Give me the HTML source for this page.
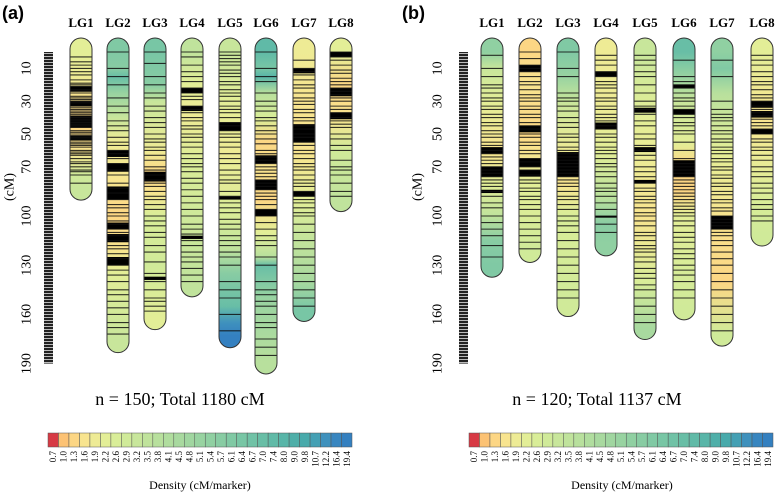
<!DOCTYPE html>
<html><head><meta charset="utf-8"><style>
body{margin:0;background:#fff;}
svg{display:block;font-family:"Liberation Serif",serif;}
</style></head><body>
<svg id="fig" width="780" height="494" viewBox="0 0 780 494">
<defs id="defs"></defs>
<text x="2" y="19" font-family="Liberation Sans,sans-serif" font-weight="bold" font-size="18">(a)</text>
<text x="402" y="19" font-family="Liberation Sans,sans-serif" font-weight="bold" font-size="18">(b)</text>
<text x="180" y="405" text-anchor="middle" font-size="18">n = 150; Total 1180 cM</text>
<text x="597" y="405" text-anchor="middle" font-size="18">n = 120; Total 1137 cM</text>
<text x="200" y="489" text-anchor="middle" font-size="12">Density (cM/marker)</text>
<text x="622" y="489" text-anchor="middle" font-size="12">Density (cM/marker)</text>
</svg>
<script>
const palette=['#d73a44','#fcc274','#fcd684','#f8e48f','#eeeb95','#e3ee97','#d9ed98','#d0ea99','#c8e69b','#c0e39c','#b8e09d','#b0dd9e','#a8d99f','#a0d6a0','#98d3a1','#90d0a2','#88cca3','#80c9a4','#78c6a5','#70c2a6','#68bea6','#60baa7','#58b5a8','#4fafa9','#48aaab','#44a0b4','#3f91bd','#3886c0','#3480c0'];
const legendLabels=['0.7','1.0','1.3','1.6','1.9','2.2','2.6','2.9','3.2','3.5','3.8','4.1','4.5','4.8','5.1','5.4','5.7','6.1','6.4','6.7','7.0','7.4','8.0','9.0','9.8','10.7','12.2','16.4','19.4'];
const lgNames=['LG1','LG2','LG3','LG4','LG5','LG6','LG7','LG8'];
const tickLabels=[10,30,50,70,100,130,160,190];
const lengthsA=[83,176,162,142,173,189,157,90];
const lengthsB=[130,121,154,117,168,156,172,111];
const markersA=[
[3,6,8,10,12,14,17,19,20,21,23,24,25,27,28,29,30,31,33,34,35,36,37,38,39,40,41,42,43,44,45,46,48,49,50,51,52,53,55,56,57,58,60,61,62,63,65,67,68,70,72,73,75,80],
[0,10,15,20,28,33,37,42,45,48,52,55,57,60,62,65,68,72,75,80,83,86,90,93,95,98,100,103,105,108,110,112,115,118,120,123,126,130,133,136,140,145,148,152,156,160,165,168,172],
[0,7,15,20,25,28,33,36,40,43,46,50,53,55,58,60,63,66,70,72,75,78,80,82,85,88,90,93,96,100,103,106,110,113,118,122,128,135,140,145,150,152,155,158],
[0,3,8,12,15,18,22,25,27,29,33,35,37,40,42,45,47,50,52,55,58,62,65,68,70,73,77,80,84,88,92,96,100,105,108,111,115,118,122,125,128,132,136,140],
[0,2,4,6,8,11,13,15,18,20,23,25,27,30,33,35,37,40,43,45,48,50,52,55,58,62,65,68,72,75,78,80,85,88,92,95,98,102,105,108,112,115,118,122,125,130,140,145,150,160,170],
[0,10,15,18,25,30,33,36,40,42,45,48,50,53,56,60,62,64,66,68,70,72,74,76,78,80,82,84,86,88,90,93,96,100,104,108,112,115,118,125,130,140,145,148,152,155,160,165,168,175,180,185],
[5,10,12,14,17,20,22,25,28,30,32,35,37,40,42,45,47,50,52,55,57,60,62,65,68,70,72,75,78,80,82,85,88,90,92,95,98,100,105,110,115,120,125,130,135,140,145,150,155],
[0,3,5,8,11,13,16,18,20,22,24,26,28,30,33,35,37,40,42,44,46,50,53,57,60,66,70,72,75,80,85,88]];
const markersB=[
[2,10,15,20,22,25,28,30,33,35,38,40,43,45,48,50,52,55,57,60,62,64,66,68,70,72,74,76,78,80,82,85,88,92,95,100,104,108,112,118,125],
[0,4,8,10,12,15,18,20,23,26,28,30,33,35,38,40,43,45,47,50,52,55,57,60,62,65,67,70,72,75,78,80,83,85,88,90,93,96,100,104,108,112,116,120],
[0,10,15,25,28,30,33,36,40,43,46,50,52,55,58,60,62,64,66,68,70,72,74,76,78,80,82,85,88,90,93,96,100,103,106,110,115,120,125,130,135,140,145,150],
[2,5,8,12,15,18,20,22,25,28,30,33,35,38,40,42,45,47,50,52,55,58,60,62,65,68,70,73,76,80,83,85,88,92,96,100,105,110],
[2,5,8,12,15,20,25,30,33,35,38,42,45,50,53,57,60,63,66,70,73,76,80,83,85,88,90,92,95,98,100,103,106,110,112,115,118,120,122,125,128,132,135,138,142,145,150,155,160,165],
[5,15,18,20,22,25,28,30,33,35,38,40,43,45,48,50,55,60,65,68,70,72,74,76,78,80,82,84,86,88,90,92,94,96,98,100,103,106,110,113,116,120,123,126,130,133,136,140,145,150],
[5,15,30,35,38,40,42,45,48,50,53,55,58,60,62,65,67,70,72,75,77,80,82,85,87,90,92,95,97,100,102,104,106,108,110,112,115,118,122,126,130,135,140,145,150,155,160,165,170],
[2,5,8,12,15,18,20,23,26,28,30,33,35,37,39,41,43,45,47,50,53,55,58,60,63,66,70,73,76,80,83,86,90,93,96,100,103]];
const blocksA=[[[21,24],[30,33],[39,46],[51,54]],[[60,64],[68,73],[82,90],[104,108],[111,116],[125,130]],[[73,79],[137,139]],[[22,25],[33,36],[112,114]],[[43,48],[88,90]],[[63,68],[78,84],[96,100]],[[10,13],[44,55],[85,88]],[[0,3],[22,27],[37,41]]];
const blocksB=[[[58,62],[70,76],[84,86]],[[8,12],[45,49],[65,70],[72,76]],[[61,76]],[[12,15],[43,47],[100,101]],[[34,37],[58,61],[78,80]],[[20,22],[35,38],[66,76]],[[100,108]],[[30,34],[36,40],[47,50]]];
const densityA=[
[[0,5],[15,4],[25,3],[45,2],[60,3],[75,7],[83,8]],
[[0,17],[10,16],[15,20],[25,14],[40,8],[55,4],[80,3],[100,2],[120,3],[135,5],[176,8]],
[[0,18],[20,16],[30,8],[60,4],[75,2],[85,3],[100,6],[130,7],[162,5]],
[[0,9],[20,5],[40,4],[70,6],[142,9]],
[[0,8],[30,5],[60,4],[100,6],[120,9],[135,16],[155,20],[165,26],[173,28]],
[[0,21],[10,18],[15,22],[25,10],[40,6],[55,2],[70,3],[90,2],[110,5],[125,10],[130,20],[150,14],[189,10]],
[[0,4],[30,3],[60,3],[90,5],[110,8],[140,12],[157,18]],
[[0,5],[20,2],[40,3],[60,7],[90,9]]];
const densityB=[
[[0,15],[10,8],[30,5],[60,3],[80,5],[100,9],[115,16],[130,17]],
[[0,2],[20,3],[50,2],[60,3],[80,5],[121,7]],
[[0,17],[15,14],[30,8],[60,4],[80,3],[100,6],[154,7]],
[[0,4],[30,4],[60,5],[90,10],[105,16],[117,15]],
[[0,8],[40,5],[70,4],[100,3],[140,6],[168,12]],
[[0,20],[15,14],[30,8],[55,5],[70,2],[85,2],[100,5],[156,7]],
[[0,15],[10,17],[25,10],[60,5],[100,3],[140,2],[172,7]],
[[0,5],[40,3],[60,4],[90,6],[111,7]]];

const NS='http://www.w3.org/2000/svg';
const svg=document.getElementById('fig');
const defs=document.getElementById('defs');
const Y0=52,K=1.64;
function yScale(cM){return Y0+cM*K;}
function mk(tag,attrs,parent){const e=document.createElementNS(NS,tag);for(const k in attrs)e.setAttribute(k,attrs[k]);(parent||svg).appendChild(e);return e;}

function panel(id,xs,rulerX,tickX,cmX,legendX,lengths,markers,blocks,density){
  const g=mk('g',{});
  
  
  const rul=mk('rect',{x:rulerX,y:Y0,width:9,height:yScale(190)-Y0,fill:'url(#rulerPat)'},g);
  
  
  tickLabels.forEach(t=>{
    const tx=mk('text',{x:tickX,y:yScale(t),'font-size':14,'text-anchor':'middle','dominant-baseline':'central',transform:`rotate(-90 ${tickX} ${yScale(t)})`},g);
    tx.textContent=t;
    
    
  });
  const cm=mk('text',{x:cmX,y:187,'font-size':14,'text-anchor':'middle','dominant-baseline':'central',transform:`rotate(-90 ${cmX} 187)`},g);
  cm.textContent='(cM)';
  
  
  lengths.forEach((L,i)=>{
    const cx=xs[i],top=38,bot=yScale(L)+12,w=22;
    const lab=mk('text',{x:cx,y:27,'font-size':13,'font-weight':'bold','text-anchor':'middle'},g);
    lab.textContent=lgNames[i];
    
    
    const gid='gr'+id+i;
    const gr=mk('linearGradient',{id:gid,gradientUnits:'userSpaceOnUse',x1:0,x2:0,y1:top,y2:bot},defs);
    density[i].forEach(s=>mk('stop',{offset:((yScale(s[0])-top)/(bot-top)).toFixed(3),'stop-color':palette[s[1]]},gr));
    const cp=mk('clipPath',{id:'cp'+id+i},defs);
    mk('rect',{x:cx-w/2,y:top,width:w,height:bot-top,rx:11},cp);
    const cg=mk('g',{'clip-path':`url(#cp${id}${i})`},g);
    
    
    mk('rect',{x:cx-w/2,y:top,width:w,height:bot-top,fill:`url(#${gid})`},cg);
    blocks[i].forEach(b=>{
      const r=mk('rect',{x:cx-w/2,y:yScale(b[0]),width:w,height:yScale(b[1])-yScale(b[0]),fill:'#000'},cg);
      
      
    });
    markers[i].forEach(m=>{
      const l=mk('line',{x1:cx-w/2,x2:cx+w/2,y1:yScale(m),y2:yScale(m),stroke:'#111','stroke-width':1.1,'stroke-opacity':0.85},cg);
      
      
    });
    mk('rect',{x:cx-w/2,y:top,width:w,height:bot-top,rx:11,fill:'none',stroke:'#333','stroke-width':1},g);
  });
  const cw=304/palette.length;
  palette.forEach((c,j)=>{
    const r=mk('rect',{x:legendX+j*cw,y:433,width:cw,height:14,fill:c,stroke:'#555','stroke-width':0.5},g);
    
    
  });
  legendLabels.forEach((t,j)=>{
    const x=legendX+j*cw+cw/2;
    const tx=mk('text',{x:x,y:451,'font-size':9,'text-anchor':'end','dominant-baseline':'central',transform:`rotate(-90 ${x} 451)`},g);
    tx.textContent=t;
    
    
  });
}
const pat=mk('pattern',{id:'rulerPat',patternUnits:'userSpaceOnUse',width:9,height:3},defs);
mk('rect',{x:0,y:0,width:9,height:2,fill:'#222'},pat);
mk('rect',{x:0,y:2,width:9,height:1,fill:'#bbb'},pat);
panel('a',[81,118,155,192,230,266,304,341],44,27,10,48,lengthsA,markersA,blocksA,densityA);
panel('b',[492,530,568,606,645,684,722,762],459,438,418,469,lengthsB,markersB,blocksB,densityB);
</script>
</body></html>
